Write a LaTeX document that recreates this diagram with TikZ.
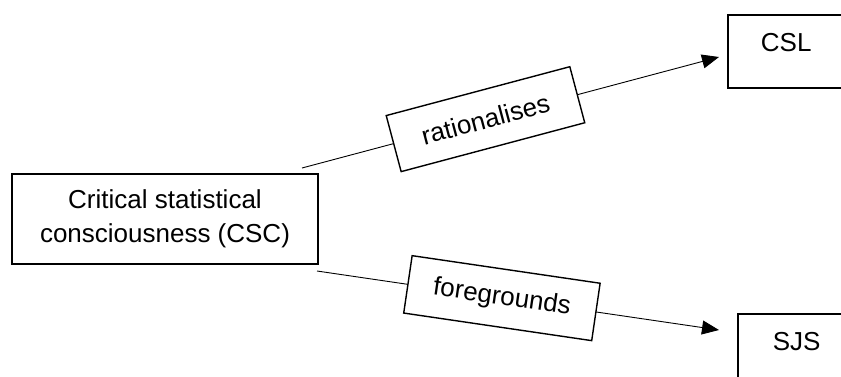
\documentclass[tikz,border=0pt]{standalone}
\usepackage{fontspec}
\setmainfont{Liberation Sans}
\usepackage{tikz}
\usetikzlibrary{arrows.meta, positioning}

\begin{document}
\begin{tikzpicture}
    [x=1pt, y=-1pt,
    every node/.style={font=\fontsize{26}{34}\selectfont},
    concept/.style={rectangle, draw, line width=1.8pt, align=center},
    target/.style={rectangle, draw, line width=1.8pt, anchor=north west, align=left,
    text width=90pt, inner ysep=18pt},
    link_label/.style={rectangle, draw, fill=white, line width=1.4pt, sloped,
    minimum width=190pt, minimum height=58pt},
    arrow/.style={line width=0.9pt, ->, >={Triangle[length=17pt, width=14pt]}}]
    \useasboundingbox (0,0) rectangle (841,376);
    \begin{scope}
    \clip (0,0) rectangle (841,376);
    \node [concept, minimum width=306pt, minimum height=90pt] (csc) at (165,219)
    {Critical statistical\\consciousness (CSC)};
    \node [target, inner xsep=33pt, text depth=19pt] (csl) at (727,14) {CSL};
    \node [target, inner xsep=35pt, text depth=40pt] (sjs) at (737,313) {SJS};

    \coordinate (rat_start) at (302,168);
    \coordinate (csl_tip) at (719,57);
    \coordinate (fg_start) at (317,271);
    \coordinate (sjs_tip) at (719,330);

    \draw [arrow] (rat_start) -- node [link_label, pos=0.44] (rationalises) {rationalises}
    (csl_tip);
    \draw [arrow] (fg_start) -- node [link_label, pos=0.46] (foregrounds) {foregrounds}
    (sjs_tip);
    \end{scope}
\end{tikzpicture}
\end{document}
